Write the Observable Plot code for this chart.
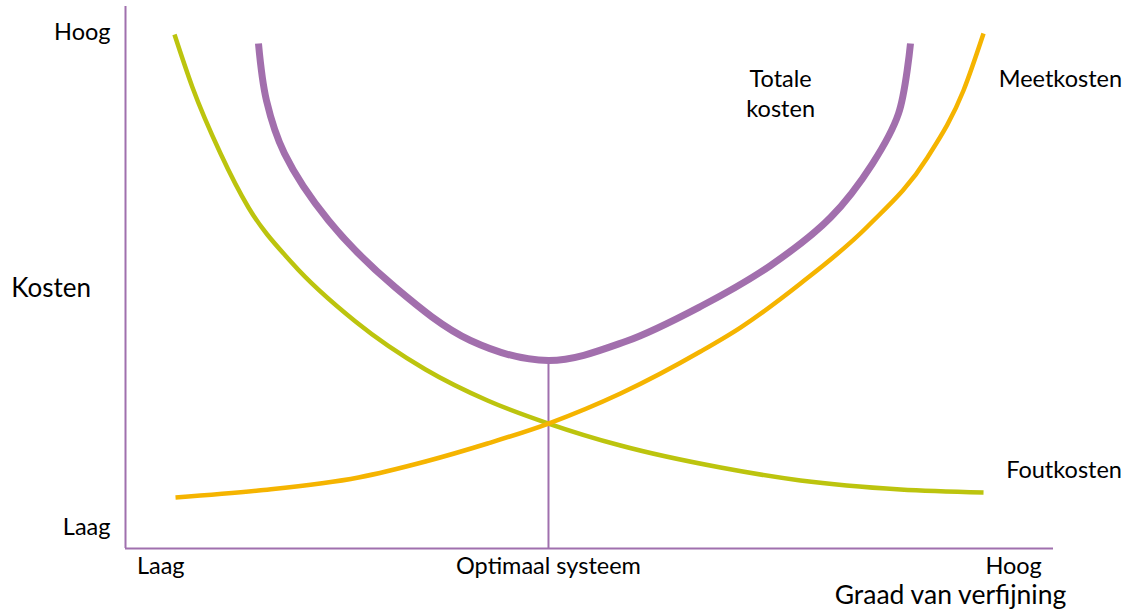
<!DOCTYPE html>
<html>
<head>
<meta charset="utf-8">
<script src="https://cdn.jsdelivr.net/npm/d3@7"></script>
<script src="https://cdn.jsdelivr.net/npm/@observablehq/plot@0.6"></script>
<style>
  html, body { margin: 0; padding: 0; background: #fff; }
  #chart svg { display: block; }
</style>
</head>
<body>
<div id="chart"></div>
<script>
// Foutkosten (error costs) – decreasing curve
const foutX = [0.528, 0.722, 1.024, 1.325, 1.800, 2.478, 3.233, 3.901, 4.558, 5.334, 6.412, 7.274, 8.351, 9.246];
const foutY = [9.483, 8.506, 7.288, 6.292, 5.258, 4.188, 3.303, 2.731, 2.306, 1.900, 1.494, 1.255, 1.089, 1.033];
// Meetkosten (measurement costs) – increasing curve
const meetX = [0.539, 1.433, 2.511, 3.233, 3.901, 4.558, 5.334, 6.196, 6.627, 7.274, 7.996, 8.642, 9.030, 9.246];
const meetY = [0.941, 1.070, 1.310, 1.605, 1.937, 2.306, 2.860, 3.635, 4.077, 4.889, 5.941, 7.214, 8.450, 9.502];
// Totale kosten (total costs) – U-shaped curve
const totX = [1.433, 1.519, 1.713, 2.188, 2.909, 3.718, 4.558, 5.388, 6.196, 6.950, 7.597, 8.050, 8.330, 8.459];
const totY = [9.317, 8.266, 7.288, 6.052, 4.815, 3.838, 3.469, 3.819, 4.465, 5.221, 6.107, 7.103, 8.026, 9.317];

const optimumX = 4.558;
const optimumY = 3.469;

const xTicks = [0.38, 4.558, 9.57];
const xTickLabels = ["Laag", "Optimaal systeem", "Hoog"];
const yTicks = [0.39, 9.52];
const yTickLabels = ["Laag", "Hoog"];

const totLabel = "Totale\nkosten";
const meetLabel = "Meetkosten";
const foutLabel = "Foutkosten";

const yTitle = "Kosten";
const xTitle = "Graad van verfijning";

const toRows = (xs, ys) => xs.map((x, i) => ({x, y: ys[i]}));
const fout = toRows(foutX, foutY);
const meet = toRows(meetX, meetY);
const tot = toRows(totX, totY);

const axisColor = "#a070ae";
const font = "Lato, 'Open Sans', sans-serif";
const fs = 23.5;

const chart = Plot.plot({
  width: 1132,
  height: 611,
  marginLeft: 125,
  marginRight: 79,
  marginTop: 6,
  marginBottom: 63,
  style: {fontFamily: font, background: "#fff", color: "#000"},
  x: {domain: [0, 10], axis: null},
  y: {domain: [0, 10], axis: null},
  marks: [
    // axes
    Plot.ruleX([0], {y1: 0, y2: 10, stroke: axisColor, strokeWidth: 2}),
    Plot.ruleY([0], {x1: 0, x2: 10, stroke: axisColor, strokeWidth: 2}),
    // optimum drop line
    Plot.ruleX([optimumX], {y1: 0, y2: optimumY, stroke: axisColor, strokeWidth: 2}),
    // curves
    Plot.line(fout, {x: "x", y: "y", curve: "monotone-x", stroke: "#bcc40e", strokeWidth: 4.5, strokeLinecap: "butt"}),
    Plot.line(meet, {x: "x", y: "y", curve: "monotone-x", stroke: "#f5b400", strokeWidth: 4.5, strokeLinecap: "butt"}),
    Plot.line(tot, {x: "x", y: "y", curve: "catmull-rom", stroke: "#a26fad", strokeWidth: 7, strokeLinecap: "butt"}),
    // tick labels
    Plot.axisX(xTicks, {tickSize: 0, tickPadding: 9, tickFormat: (d, i) => xTickLabels[i], fontSize: fs, fill: "#000", anchor: "bottom", label: null}),
    Plot.axisY(yTicks, {tickSize: 0, tickPadding: 15, tickFormat: (d, i) => yTickLabels[i], fontSize: fs, fill: "#000", anchor: "left", label: null}),
    // series labels
    Plot.text([totLabel], {x: 7.06, y: 8.42, textAnchor: "middle", fontSize: fs, fill: "#000", lineHeight: 1.3}),
    Plot.text([meetLabel], {x: 9.41, y: 8.66, textAnchor: "start", fontSize: fs, fill: "#000"}),
    Plot.text([foutLabel], {x: 9.49, y: 1.44, textAnchor: "start", fontSize: fs, fill: "#000"}),
    // axis titles
    Plot.text([yTitle], {x: -1.23, y: 4.80, textAnchor: "start", fontSize: 26, fill: "#000"}),
    Plot.text([xTitle], {x: 8.89, y: -0.87, textAnchor: "middle", fontSize: 26.5, fill: "#000"})
  ]
});
document.getElementById("chart").appendChild(chart);
</script>
</body>
</html>
